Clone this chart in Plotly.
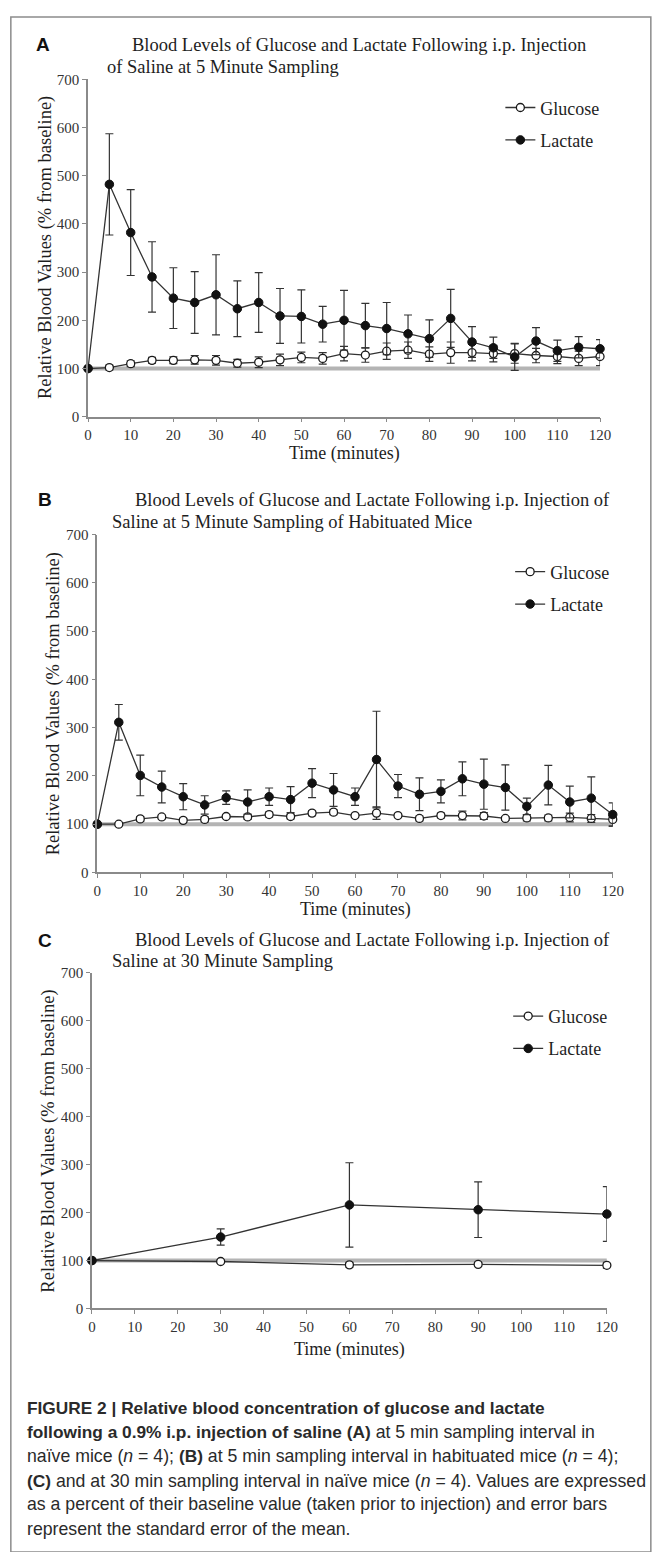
import plotly.graph_objects as go

W, H = 655, 1552

# ---------------- data ----------------
time_5min = [0, 5, 10, 15, 20, 25, 30, 35, 40, 45, 50, 55, 60, 65, 70, 75, 80, 85, 90, 95, 100, 105, 110, 115, 120]
time_30min = [0, 30, 60, 90, 120]

# Panel A: naive mice, 5 min sampling
glucose_a = [100, 102, 110, 117, 117, 118, 117, 111, 113, 118, 123, 121, 131, 128, 136, 138, 130, 133, 133, 131, 131, 127, 125, 121, 125]
glucose_a_sem = [0, 5, 6, 6, 7, 9, 10, 8, 11, 12, 11, 12, 15, 15, 17, 17, 15, 22, 17, 17, 20, 15, 15, 15, 19]
lactate_a = [100, 482, 382, 290, 246, 237, 253, 224, 237, 209, 208, 192, 200, 189, 183, 172, 162, 204, 155, 143, 124, 157, 137, 144, 141]
lactate_a_sem = [0, 105, 89, 73, 63, 64, 83, 58, 62, 57, 55, 37, 62, 46, 54, 39, 39, 60, 32, 22, 28, 28, 22, 22, 19]

# Panel B: habituated mice, 5 min sampling
glucose_b = [100, 100, 111, 115, 108, 110, 116, 115, 120, 116, 123, 125, 118, 123, 118, 112, 118, 118, 117, 112, 113, 113, 114, 112, 110]
glucose_b_sem = [0, 3, 5, 4, 4, 5, 4, 5, 5, 5, 5, 5, 4, 13, 4, 5, 5, 9, 7, 4, 6, 6, 9, 8, 14]
lactate_b = [100, 311, 201, 177, 157, 140, 155, 146, 157, 151, 185, 171, 157, 234, 179, 162, 168, 194, 183, 176, 137, 181, 146, 154, 120]
lactate_b_sem = [0, 37, 42, 33, 27, 19, 14, 25, 18, 27, 30, 34, 18, 100, 24, 34, 24, 35, 52, 47, 17, 41, 33, 44, 24]

# Panel C: naive mice, 30 min sampling
glucose_c = [100, 98, 91, 92, 90]
glucose_c_sem = [0, 3, 5, 4, 6]
lactate_c = [100, 149, 216, 206, 197]
lactate_c_sem = [0, 17, 88, 58, 57]

x_ticks = [0, 10, 20, 30, 40, 50, 60, 70, 80, 90, 100, 110, 120]
y_ticks = [0, 100, 200, 300, 400, 500, 600, 700]
baseline_value = 100

series_names = ["Glucose", "Lactate"]

titles = [
    ("Blood Levels of Glucose and Lactate Following i.p. Injection", "of Saline at 5 Minute Sampling"),
    ("Blood Levels of Glucose and Lactate Following i.p. Injection of", "Saline at 5 Minute Sampling of Habituated Mice"),
    ("Blood Levels of Glucose and Lactate Following i.p. Injection of", "Saline at 30 Minute Sampling"),
]
panel_letters = ["A", "B", "C"]
x_title = "Time (minutes)"
y_title = "Relative Blood Values (% from baseline)"

BS = "<span style='font-size:17.3px'><b>"
BE = "</b></span>"
caption_lines = [
    BS + "FIGURE 2 | Relative blood concentration of glucose and lactate" + BE,
    BS + "following a 0.9% i.p. injection of saline (A)" + BE + " at 5 min sampling interval in",
    "naïve mice (<i>n</i> = 4); " + BS + "(B)" + BE + " at 5 min sampling interval in habituated mice (<i>n</i> = 4);",
    BS + "(C)" + BE + " and at 30 min sampling interval in naïve mice (<i>n</i> = 4). Values are expressed",
    "as a percent of their baseline value (taken prior to injection) and error bars",
    "represent the standard error of the mean.",
]

# ---------------- layout geometry (pixels) ----------------
SERIF = "Liberation Serif"
SANS = "Liberation Sans"
TXT = "#1e1e1e"
AX = "#8a8a8a"

panels = [
    dict(x0=86, x1=610, ytop=72, ybot=413, title_y=(37, 60), title_x=(129, 103), letter_x=31,
         xt_y=450, yt_x=42, leg_x=508, leg_y=117,
         t=time_5min, g=glucose_a, gs=glucose_a_sem, l=lactate_a, ls=lactate_a_sem),
    dict(x0=95.5, x1=623, ytop=532, ybot=873.5, title_y=(497, 519), title_x=(132, 108), letter_x=33,
         xt_y=911, yt_x=51, leg_x=518, leg_y=586,
         t=time_5min, g=glucose_b, gs=glucose_b_sem, l=lactate_b, ls=lactate_b_sem),
    dict(x0=90, x1=617, ytop=975, ybot=1314, title_y=(942, 963), title_x=(132, 108), letter_x=33,
         xt_y=1355, yt_x=46, leg_x=516, leg_y=1035,
         t=time_30min, g=glucose_c, gs=glucose_c_sem, l=lactate_c, ls=lactate_c_sem),
]


def px(x):
    return x / W


def py(y):
    return 1 - y / H


fig = go.Figure()
annotations = []
shapes = []
legend_names = ["legend", "legend2", "legend3"]

for i, p in enumerate(panels):
    sfx = "" if i == 0 else str(i + 1)
    xa, ya = "x" + sfx, "y" + sfx
    leg = legend_names[i]

    fig.add_trace(go.Scatter(
        x=p["t"], y=p["g"], mode="lines+markers", name=series_names[0],
        xaxis=xa, yaxis=ya, legend=leg, legendgroup=f"g{i}", cliponaxis=False,
        line=dict(color="#333333", width=1.3),
        marker=dict(symbol="circle", size=8, color="white", line=dict(color="#1a1a1a", width=1.3)),
        error_y=dict(type="data", array=p["gs"], visible=True, color="#333333", thickness=1.2, width=4),
    ))
    fig.add_trace(go.Scatter(
        x=p["t"], y=p["l"], mode="lines+markers", name=series_names[1],
        xaxis=xa, yaxis=ya, legend=leg, legendgroup=f"l{i}", cliponaxis=False,
        line=dict(color="#333333", width=1.3),
        marker=dict(symbol="circle", size=8.5, color="#111111", line=dict(color="#111111", width=1)),
        error_y=dict(type="data", array=p["ls"], visible=True, color="#333333", thickness=1.2, width=4),
    ))

    axis_common = dict(showgrid=False, zeroline=False, showline=True, linecolor=AX, linewidth=1.5,
                       ticks="outside", tickcolor=AX, tickwidth=1.2,
                       tickfont=dict(family=SERIF, size=15, color="#333333"))
    fig.update_layout(**{
        "xaxis" + sfx: dict(domain=[px(p["x0"]), px(p["x1"])], range=[0, 120], anchor=ya,
                            tickvals=x_ticks, ticklen=4, **axis_common),
        "yaxis" + sfx: dict(domain=[py(p["ybot"]), py(p["ytop"])], range=[0, 700], anchor=xa,
                            tickvals=y_ticks, ticklen=4, **axis_common),
    })

    shapes.append(dict(type="line", xref=xa, yref=ya, x0=0, x1=120, y0=baseline_value, y1=baseline_value,
                       line=dict(color="#b4b4b4", width=4), layer="below"))

    # titles
    annotations.append(dict(text=panel_letters[i], x=px(p["letter_x"]), y=py(p["title_y"][0]),
                            xref="paper", yref="paper", xanchor="left", yanchor="middle", showarrow=False,
                            font=dict(family=SANS, size=19, color="#111111", weight="bold")))
    annotations.append(dict(text=titles[i][0], x=px(p["title_x"][0]), y=py(p["title_y"][0]),
                            xref="paper", yref="paper", xanchor="left", yanchor="middle", showarrow=False,
                            font=dict(family=SERIF, size=18.5, color=TXT)))
    annotations.append(dict(text=titles[i][1], x=px(p["title_x"][1]), y=py(p["title_y"][1]),
                            xref="paper", yref="paper", xanchor="left", yanchor="middle", showarrow=False,
                            font=dict(family=SERIF, size=18.5, color=TXT)))
    # axis titles
    annotations.append(dict(text=x_title, x=px((p["x0"] + p["x1"]) / 2), y=py(p["xt_y"]),
                            xref="paper", yref="paper", xanchor="center", yanchor="middle", showarrow=False,
                            font=dict(family=SERIF, size=18, color=TXT)))
    annotations.append(dict(text=y_title, x=px(p["yt_x"]), y=py((p["ytop"] + p["ybot"]) / 2), textangle=-90,
                            xref="paper", yref="paper", xanchor="center", yanchor="middle", showarrow=False,
                            font=dict(family=SERIF, size=18.5, color=TXT)))

    fig.update_layout(**{leg: dict(x=px(p["leg_x"]), y=py(p["leg_y"]), xanchor="left", yanchor="middle",
                                   bgcolor="rgba(0,0,0,0)", borderwidth=0, tracegroupgap=6,
                                   font=dict(family=SERIF, size=18, color=TXT))})

# caption
caption_y = [1415, 1439, 1463, 1488, 1512, 1537]
for line, yy in zip(caption_lines, caption_y):
    annotations.append(dict(text=line, x=px(22), y=py(yy), xref="paper", yref="paper",
                            xanchor="left", yanchor="middle", showarrow=False,
                            font=dict(family=SANS, size=17.7, color="#2a2a2a")))

# outer frame
shapes.append(dict(type="rect", xref="paper", yref="paper", x0=px(7), x1=px(662), y0=py(1560), y1=py(9),
                   line=dict(color="#8c8c8c", width=1.5), fillcolor="rgba(0,0,0,0)", layer="below"))

fig.update_layout(width=W, height=H, autosize=False, margin=dict(l=0, r=0, t=0, b=0, pad=0),
                  paper_bgcolor="white", plot_bgcolor="rgba(0,0,0,0)", showlegend=True,
                  annotations=annotations, shapes=shapes)

fig.write_html("out.html")
